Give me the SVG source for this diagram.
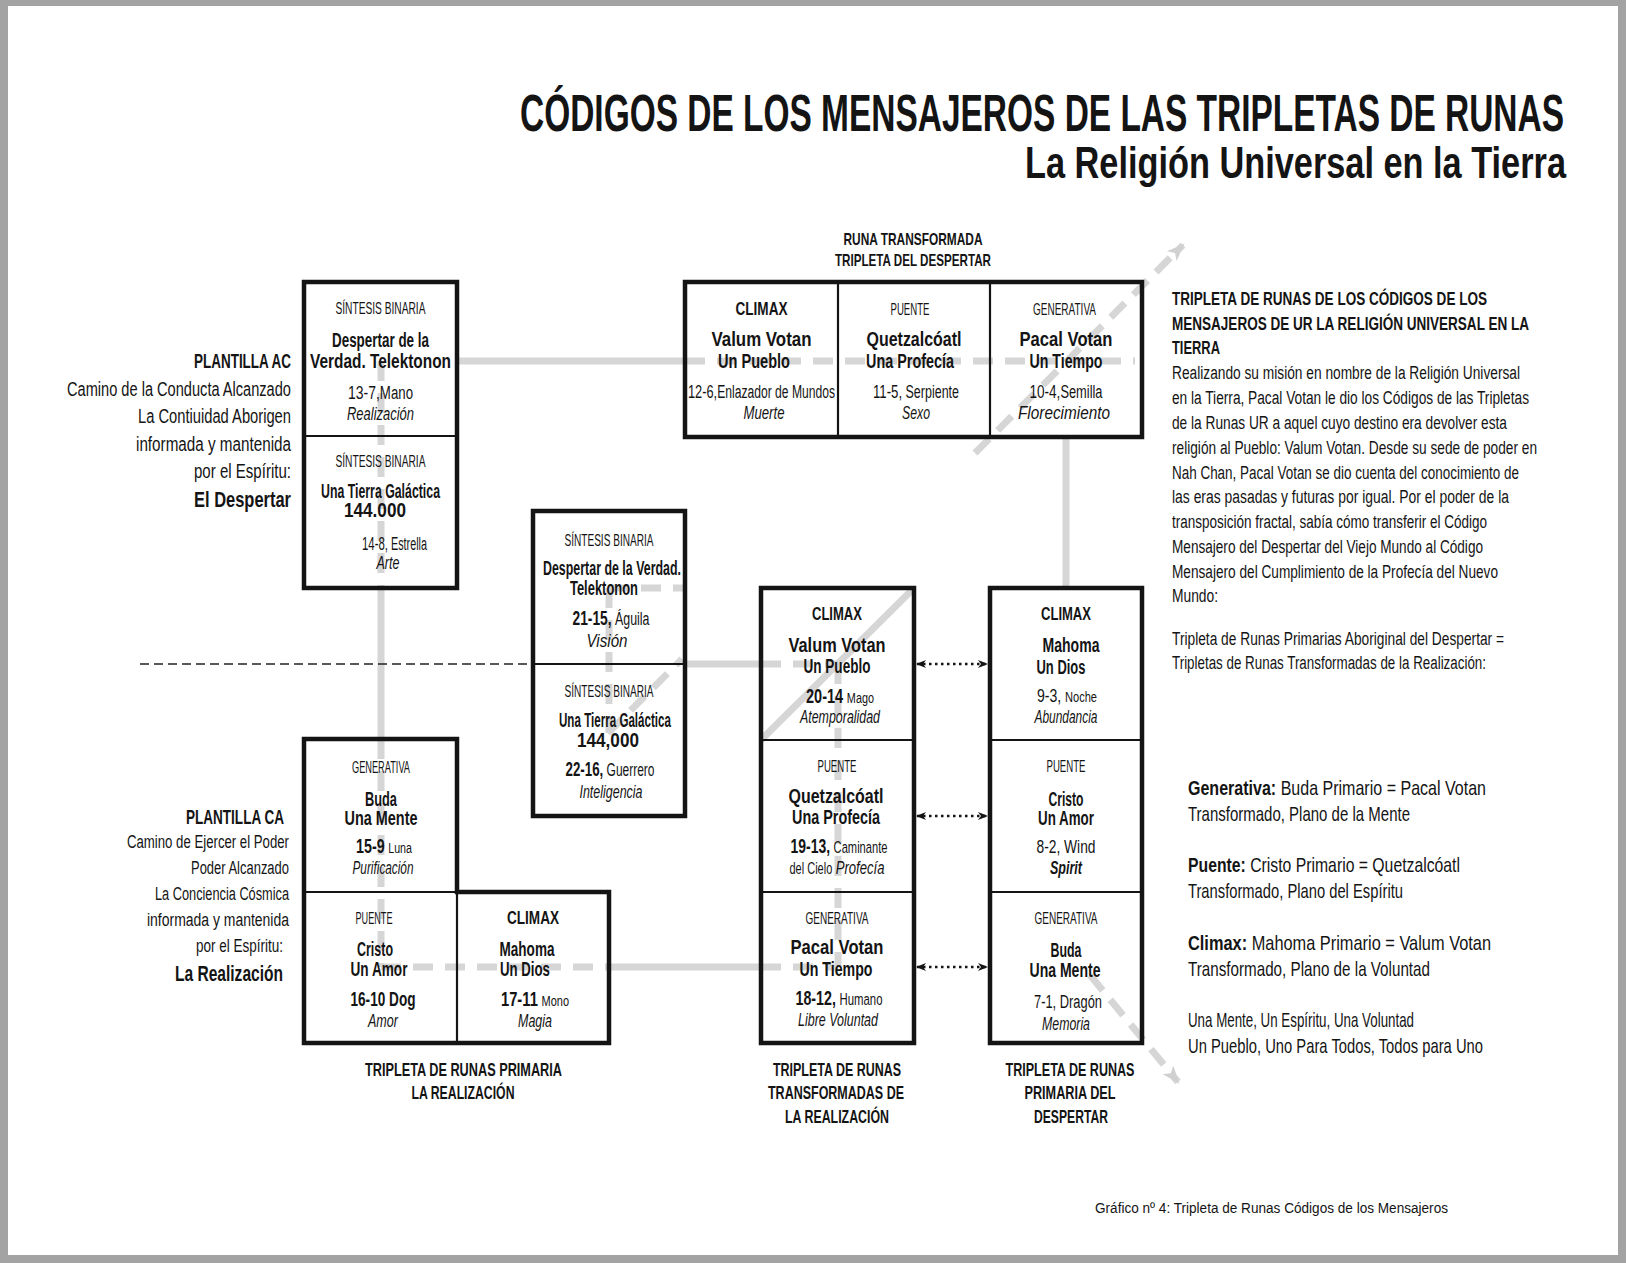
<svg xmlns="http://www.w3.org/2000/svg" width="1626" height="1263" viewBox="0 0 1626 1263">
<defs>
<style>
text{font-family:"Liberation Sans",Arial,sans-serif;fill:#141414;transform-box:fill-box;transform-origin:0 81%}
.c{text-anchor:middle}
.e{text-anchor:end}
.ti{font-size:33.6px;font-weight:bold;transform:scaleY(1.548)}
.st{font-size:34.3px;font-weight:bold;transform:scaleY(1.283)}
.hd{font-size:10px;transform:scaleY(1.6)}
.cx{font-size:13.5px;font-weight:bold;transform:scaleY(1.33)}
.nm{font-size:14.8px;font-weight:bold;transform:scaleY(1.35)}
.nb{font-size:17.2px;font-weight:bold;transform:scaleY(1.22)}
.nu{font-size:12.4px;transform:scaleY(1.45)}
.it{font-size:13.5px;font-style:italic;transform:scaleY(1.33)}
.lb{font-size:12.7px;font-weight:bold;transform:scaleY(1.5)}
.lb2{font-size:11.3px;font-weight:bold;transform:scaleY(1.5)}
.pl{font-size:13.3px;font-weight:bold;transform:scaleY(1.58)}
.pa{font-size:14.6px;transform:scaleY(1.37)}
.pab{font-size:16.4px;font-weight:bold;transform:scaleY(1.34)}
.pr{font-size:13.6px;transform:scaleY(1.32)}
.prb{font-size:13.6px;font-weight:bold;transform:scaleY(1.32)}
.ps{font-size:15px;transform:scaleY(1.4)}
.ft{font-size:12.9px;transform:scaleY(1.16)}
.box{fill:none;stroke:#141414;stroke-width:4.5}
.div{fill:none;stroke:#141414;stroke-width:2.2}
.g{stroke:#d6d6d6;stroke-width:7;fill:none}
.gd{stroke:#d6d6d6;stroke-width:7;fill:none;stroke-dasharray:20 12}
.bd{stroke:#222;stroke-width:1.5;fill:none;stroke-dasharray:9 5}
.dot{stroke:#141414;stroke-width:2.5;fill:none;stroke-dasharray:2.5 3.5}
</style>
<marker id="da" viewBox="0 0 10 8" refX="9" refY="4" markerWidth="10" markerHeight="8" markerUnits="userSpaceOnUse" orient="auto-start-reverse"><path d="M0,0 L10,4 L0,8 L3,4 Z" fill="#141414"/></marker>
<marker id="ga" viewBox="0 0 16 12" refX="14" refY="6" markerWidth="18" markerHeight="14" markerUnits="userSpaceOnUse" orient="auto"><path d="M0,0 L16,6 L0,12 L4,6 Z" fill="#d0d0d0"/></marker>
</defs>

<rect width="1626" height="1263" fill="#a3a3a3"/>
<rect x="8" y="6" width="1610" height="1249" fill="#ffffff"/>

<g id="title">
<text class="ti" x="520" y="131" textLength="1044" lengthAdjust="spacingAndGlyphs">CÓDIGOS DE LOS MENSAJEROS DE LAS TRIPLETAS DE RUNAS</text>
<text class="st" x="1025" y="178" textLength="541" lengthAdjust="spacingAndGlyphs">La Religión Universal en la Tierra</text>
</g>

<g id="connectors">
<line class="g" x1="457" y1="361" x2="685" y2="361"/>
<line class="gd" x1="685" y1="361" x2="1135" y2="361"/>
<line class="gd" x1="381" y1="361" x2="381" y2="588"/>
<line class="g" x1="381" y1="588" x2="381" y2="739"/>
<line class="gd" x1="381" y1="739" x2="381" y2="967"/>
<line class="gd" x1="381" y1="967" x2="609" y2="967"/>
<line class="g" x1="609" y1="967" x2="761" y2="967"/>
<line class="gd" x1="761" y1="967" x2="838" y2="967"/>
<line class="gd" x1="838" y1="664" x2="838" y2="967"/>
<line class="g" x1="685" y1="664" x2="761" y2="664"/>
<line class="gd" x1="761" y1="664" x2="838" y2="664"/>
<line class="gd" x1="609" y1="588" x2="609" y2="733"/>
<line class="gd" x1="609" y1="588" x2="685" y2="588"/>
<line class="gd" x1="608" y1="733" x2="682" y2="659"/>
<line class="g" x1="761" y1="740" x2="914" y2="588"/>
<line class="g" x1="1066" y1="437" x2="1066" y2="588"/>
<line class="gd" x1="975" y1="453" x2="1183" y2="245" marker-end="url(#ga)"/>
<line class="gd" x1="1090" y1="975" x2="1178" y2="1082" marker-end="url(#ga)"/>
<line class="bd" x1="140" y1="664" x2="532" y2="664"/>
<line class="dot" x1="917" y1="664" x2="987" y2="664" marker-start="url(#da)" marker-end="url(#da)"/>
<line class="dot" x1="917" y1="816" x2="987" y2="816" marker-start="url(#da)" marker-end="url(#da)"/>
<line class="dot" x1="917" y1="967" x2="987" y2="967" marker-start="url(#da)" marker-end="url(#da)"/>
</g>

<g id="plantilla-ac">
<text class="e pl" x="291" y="368" textLength="97" lengthAdjust="spacingAndGlyphs">PLANTILLA AC</text>
<text class="e pa" x="291" y="396" textLength="224" lengthAdjust="spacingAndGlyphs">Camino de la Conducta Alcanzado</text>
<text class="e pa" x="291" y="423" textLength="153" lengthAdjust="spacingAndGlyphs">La Contiuidad Aborigen</text>
<text class="e pa" x="291" y="451" textLength="155" lengthAdjust="spacingAndGlyphs">informada y mantenida</text>
<text class="e pa" x="291" y="478" textLength="97" lengthAdjust="spacingAndGlyphs">por el Espíritu:</text>
<text class="e pab" x="291" y="507" textLength="97" lengthAdjust="spacingAndGlyphs">El Despertar</text>
</g>

<g id="plantilla-ca">
<text class="e pl" x="284" y="824" font-size="12.7" textLength="98" lengthAdjust="spacingAndGlyphs">PLANTILLA CA</text>
<text class="e pr" x="289" y="848" textLength="162" lengthAdjust="spacingAndGlyphs">Camino de Ejercer el Poder</text>
<text class="e pr" x="289" y="874" textLength="98" lengthAdjust="spacingAndGlyphs">Poder Alcanzado</text>
<text class="e pr" x="289" y="900" textLength="134" lengthAdjust="spacingAndGlyphs">La Conciencia Cósmica</text>
<text class="e pr" x="289" y="926" textLength="142" lengthAdjust="spacingAndGlyphs">informada y mantenida</text>
<text class="e pr" x="283" y="952" textLength="87" lengthAdjust="spacingAndGlyphs">por el Espíritu:</text>
<text class="e pab" x="283" y="981" font-size="15.7" textLength="108" lengthAdjust="spacingAndGlyphs">La Realización</text>
</g>

<g id="box-sintesis-ac">
<rect class="box" x="304" y="282" width="153" height="306"/>
<line class="div" x1="304" y1="436" x2="457" y2="436"/>
<text class="c hd" x="380.5" y="314" textLength="90" lengthAdjust="spacingAndGlyphs">SÍNTESIS BINARIA</text>
<text class="c nm" x="380.5" y="347" textLength="97" lengthAdjust="spacingAndGlyphs">Despertar de la</text>
<text class="c nm" x="380.5" y="368" textLength="141" lengthAdjust="spacingAndGlyphs">Verdad. Telektonon</text>
<text class="c nu" x="380.5" y="399" textLength="65" lengthAdjust="spacingAndGlyphs"><tspan font-size="13.1">13-7,</tspan>Mano</text>
<text class="c it" x="380.5" y="420" textLength="67" lengthAdjust="spacingAndGlyphs">Realización</text>
<text class="c hd" x="380.5" y="467" textLength="90" lengthAdjust="spacingAndGlyphs">SÍNTESIS BINARIA</text>
<text class="c nm" x="380.5" y="498" textLength="119" lengthAdjust="spacingAndGlyphs">Una Tierra Galáctica</text>
<text class="c nb" x="375" y="517" textLength="62" lengthAdjust="spacingAndGlyphs">144.000</text>
<text class="c nu" x="394.5" y="550" textLength="65" lengthAdjust="spacingAndGlyphs"><tspan font-size="13.1">14-8,</tspan>  Estrella</text>
<text class="c it" x="388" y="569" textLength="23" lengthAdjust="spacingAndGlyphs">Arte</text>
</g>

<g id="box-runa-transformada">
<text class="c lb2" x="913" y="245" textLength="139" lengthAdjust="spacingAndGlyphs">RUNA TRANSFORMADA</text>
<text class="c lb2" x="913" y="266" textLength="156" lengthAdjust="spacingAndGlyphs">TRIPLETA DEL DESPERTAR</text>
<rect class="box" x="685" y="282" width="457" height="155"/>
<line class="div" x1="838" y1="282" x2="838" y2="437"/>
<line class="div" x1="990" y1="282" x2="990" y2="437"/>
<text class="c cx" x="761.5" y="315" textLength="52" lengthAdjust="spacingAndGlyphs">CLIMAX</text>
<text class="c nm" x="761.5" y="346" textLength="100" lengthAdjust="spacingAndGlyphs">Valum Votan</text>
<text class="c nm" x="754" y="368" textLength="72" lengthAdjust="spacingAndGlyphs">Un Pueblo</text>
<text class="c nu" x="761.5" y="398" textLength="147" lengthAdjust="spacingAndGlyphs"><tspan font-size="13.1">12-6,</tspan>Enlazador de Mundos</text>
<text class="c it" x="764" y="419" textLength="41" lengthAdjust="spacingAndGlyphs">Muerte</text>
<text class="c hd" x="910" y="315" textLength="39" lengthAdjust="spacingAndGlyphs">PUENTE</text>
<text class="c nm" x="914" y="346" textLength="95" lengthAdjust="spacingAndGlyphs">Quetzalcóatl</text>
<text class="c nm" x="910" y="368" textLength="88" lengthAdjust="spacingAndGlyphs">Una Profecía</text>
<text class="c nu" x="916" y="398" textLength="86" lengthAdjust="spacingAndGlyphs"><tspan font-size="13.1">11-5,</tspan> Serpiente</text>
<text class="c it" x="916" y="419" textLength="28" lengthAdjust="spacingAndGlyphs">Sexo</text>
<text class="c hd" x="1064.5" y="315" textLength="63" lengthAdjust="spacingAndGlyphs">GENERATIVA</text>
<text class="c nm" x="1066" y="346" textLength="93" lengthAdjust="spacingAndGlyphs">Pacal Votan</text>
<text class="c nm" x="1066" y="368" textLength="73" lengthAdjust="spacingAndGlyphs">Un Tiempo</text>
<text class="c nu" x="1066" y="398" textLength="73" lengthAdjust="spacingAndGlyphs"><tspan font-size="13.1">10-4,</tspan>Semilla</text>
<text class="c it" x="1064" y="419" textLength="92" lengthAdjust="spacingAndGlyphs">Florecimiento</text>
</g>

<g id="box-sintesis-central">
<rect class="box" x="533" y="511" width="152" height="305"/>
<line class="div" x1="533" y1="664" x2="685" y2="664"/>
<text class="c hd" x="609" y="546" textLength="89" lengthAdjust="spacingAndGlyphs">SÍNTESIS BINARIA</text>
<text class="c nm" x="612" y="575" font-size="14.1" textLength="138" lengthAdjust="spacingAndGlyphs">Despertar de la Verdad.</text>
<text class="c nm" x="604" y="595" font-size="14.1" textLength="68" lengthAdjust="spacingAndGlyphs">Telektonon</text>
<text class="c nu" x="611" y="625" textLength="77" lengthAdjust="spacingAndGlyphs"><tspan font-size="13.8" font-weight="bold">21-15,</tspan> Águila</text>
<text class="c it" x="607" y="647" textLength="41" lengthAdjust="spacingAndGlyphs">Visión</text>
<text class="c hd" x="609" y="697" textLength="89" lengthAdjust="spacingAndGlyphs">SÍNTESIS BINARIA</text>
<text class="c nm" x="615" y="727" font-size="14.1" textLength="112" lengthAdjust="spacingAndGlyphs">Una Tierra Galáctica</text>
<text class="c nb" x="608" y="747" textLength="62" lengthAdjust="spacingAndGlyphs">144,000</text>
<text class="c nu" x="610" y="776" textLength="89" lengthAdjust="spacingAndGlyphs"><tspan font-size="13.8" font-weight="bold">22-16,</tspan> Guerrero</text>
<text class="c it" x="611" y="798" textLength="63" lengthAdjust="spacingAndGlyphs">Inteligencia</text>
</g>

<g id="box-transformadas-realizacion">
<rect class="box" x="761" y="588" width="153" height="455"/>
<line class="div" x1="761" y1="740" x2="914" y2="740"/>
<line class="div" x1="761" y1="892" x2="914" y2="892"/>
<text class="c cx" x="837" y="620" textLength="50" lengthAdjust="spacingAndGlyphs">CLIMAX</text>
<text class="c nm" x="837" y="652" textLength="97" lengthAdjust="spacingAndGlyphs">Valum Votan</text>
<text class="c nm" x="837" y="673" textLength="67" lengthAdjust="spacingAndGlyphs">Un Pueblo</text>
<text class="c nu" x="840" y="703" textLength="68" lengthAdjust="spacingAndGlyphs"><tspan font-size="13.8" font-weight="bold">20-14</tspan> <tspan font-size="10.3">Mago</tspan></text>
<text class="c it" x="840" y="723" textLength="80" lengthAdjust="spacingAndGlyphs">Atemporalidad</text>
<text class="c hd" x="837" y="772" textLength="39" lengthAdjust="spacingAndGlyphs">PUENTE</text>
<text class="c nm" x="836" y="803" textLength="95" lengthAdjust="spacingAndGlyphs">Quetzalcóatl</text>
<text class="c nm" x="836" y="824" textLength="88" lengthAdjust="spacingAndGlyphs">Una Profecía</text>
<text class="c nu" x="839" y="853" textLength="97" lengthAdjust="spacingAndGlyphs"><tspan font-size="13.8" font-weight="bold">19-13,</tspan> <tspan font-size="11">Caminante</tspan></text>
<text class="c nu" x="837" y="874" textLength="95" lengthAdjust="spacingAndGlyphs"><tspan font-size="11">del Cielo</tspan>  <tspan font-style="italic" font-size="13.1">Profecía</tspan></text>
<text class="c hd" x="837" y="924" textLength="63" lengthAdjust="spacingAndGlyphs">GENERATIVA</text>
<text class="c nm" x="837" y="954" textLength="93" lengthAdjust="spacingAndGlyphs">Pacal Votan</text>
<text class="c nm" x="836" y="976" textLength="73" lengthAdjust="spacingAndGlyphs">Un Tiempo</text>
<text class="c nu" x="839" y="1005" textLength="87" lengthAdjust="spacingAndGlyphs"><tspan font-size="13.8" font-weight="bold">18-12,</tspan> <tspan font-size="11">Humano</tspan></text>
<text class="c it" x="838" y="1026" textLength="80" lengthAdjust="spacingAndGlyphs">Libre Voluntad</text>
<text class="c lb" x="837" y="1076" textLength="128" lengthAdjust="spacingAndGlyphs">TRIPLETA DE RUNAS</text>
<text class="c lb" x="836" y="1099" textLength="136" lengthAdjust="spacingAndGlyphs">TRANSFORMADAS DE</text>
<text class="c lb" x="837" y="1123" textLength="104" lengthAdjust="spacingAndGlyphs">LA REALIZACIÓN</text>
</g>

<g id="box-primaria-despertar">
<rect class="box" x="990" y="588" width="152" height="455"/>
<line class="div" x1="990" y1="740" x2="1142" y2="740"/>
<line class="div" x1="990" y1="892" x2="1142" y2="892"/>
<text class="c cx" x="1066" y="620" textLength="50" lengthAdjust="spacingAndGlyphs">CLIMAX</text>
<text class="c nm" x="1071" y="652" textLength="57" lengthAdjust="spacingAndGlyphs">Mahoma</text>
<text class="c nm" x="1061" y="674" textLength="49" lengthAdjust="spacingAndGlyphs">Un Dios</text>
<text class="c nu" x="1067" y="702" textLength="60" lengthAdjust="spacingAndGlyphs"><tspan font-size="13.1">9-3,</tspan> <tspan font-size="10.3">Noche</tspan></text>
<text class="c it" x="1066" y="723" textLength="63" lengthAdjust="spacingAndGlyphs">Abundancia</text>
<text class="c hd" x="1066" y="772" textLength="39" lengthAdjust="spacingAndGlyphs">PUENTE</text>
<text class="c nm" x="1066" y="806" textLength="35" lengthAdjust="spacingAndGlyphs">Cristo</text>
<text class="c nm" x="1066" y="825" textLength="56" lengthAdjust="spacingAndGlyphs">Un Amor</text>
<text class="c nu" x="1066" y="853" font-size="13.1" textLength="59" lengthAdjust="spacingAndGlyphs">8-2, Wind</text>
<text class="c it" x="1066" y="874" font-weight="bold" textLength="32" lengthAdjust="spacingAndGlyphs">Spirit</text>
<text class="c hd" x="1066" y="924" textLength="63" lengthAdjust="spacingAndGlyphs">GENERATIVA</text>
<text class="c nm" x="1066" y="957" textLength="31" lengthAdjust="spacingAndGlyphs">Buda</text>
<text class="c nm" x="1065" y="977" textLength="71" lengthAdjust="spacingAndGlyphs">Una Mente</text>
<text class="c nu" x="1068" y="1008" font-size="13.1" textLength="68" lengthAdjust="spacingAndGlyphs">7-1, Dragón</text>
<text class="c it" x="1066" y="1030" textLength="48" lengthAdjust="spacingAndGlyphs">Memoria</text>
<text class="c lb" x="1070" y="1076" textLength="129" lengthAdjust="spacingAndGlyphs">TRIPLETA DE RUNAS</text>
<text class="c lb" x="1070" y="1099" textLength="91" lengthAdjust="spacingAndGlyphs">PRIMARIA DEL</text>
<text class="c lb" x="1071" y="1123" textLength="74" lengthAdjust="spacingAndGlyphs">DESPERTAR</text>
</g>

<g id="box-primaria-realizacion">
<path class="box" d="M304,739 H457 V892 H609 V1043 H304 Z"/>
<line class="div" x1="304" y1="892" x2="457" y2="892"/>
<line class="div" x1="457" y1="892" x2="457" y2="1043"/>
<text class="c hd" x="381" y="773" textLength="58" lengthAdjust="spacingAndGlyphs">GENERATIVA</text>
<text class="c nm" x="381" y="806" textLength="32" lengthAdjust="spacingAndGlyphs">Buda</text>
<text class="c nm" x="381" y="825" textLength="73" lengthAdjust="spacingAndGlyphs">Una Mente</text>
<text class="c nu" x="384" y="853" textLength="56" lengthAdjust="spacingAndGlyphs"><tspan font-size="13.8" font-weight="bold">15-9</tspan> <tspan font-size="10.3">Luna</tspan></text>
<text class="c it" x="383" y="874" textLength="61" lengthAdjust="spacingAndGlyphs">Purificación</text>
<text class="c hd" x="374" y="924" textLength="37" lengthAdjust="spacingAndGlyphs">PUENTE</text>
<text class="c nm" x="375" y="956" textLength="36" lengthAdjust="spacingAndGlyphs">Cristo</text>
<text class="c nm" x="379" y="976" textLength="57" lengthAdjust="spacingAndGlyphs">Un Amor</text>
<text class="c nm" x="383" y="1006" textLength="65" lengthAdjust="spacingAndGlyphs">16-10 Dog</text>
<text class="c it" x="383" y="1027" textLength="30" lengthAdjust="spacingAndGlyphs">Amor</text>
<text class="c cx" x="533" y="924" textLength="52" lengthAdjust="spacingAndGlyphs">CLIMAX</text>
<text class="c nm" x="527" y="956" textLength="55" lengthAdjust="spacingAndGlyphs">Mahoma</text>
<text class="c nm" x="525" y="976" textLength="50" lengthAdjust="spacingAndGlyphs">Un Dios</text>
<text class="c nu" x="535" y="1006" textLength="68" lengthAdjust="spacingAndGlyphs"><tspan font-size="13.8" font-weight="bold">17-11</tspan> <tspan font-size="10.3">Mono</tspan></text>
<text class="c it" x="535" y="1027" textLength="34" lengthAdjust="spacingAndGlyphs">Magia</text>
<text class="c lb" x="463.5" y="1076" textLength="197" lengthAdjust="spacingAndGlyphs">TRIPLETA DE RUNAS PRIMARIA</text>
<text class="c lb" x="463" y="1099" textLength="103" lengthAdjust="spacingAndGlyphs">LA REALIZACIÓN</text>
</g>

<g id="texto-descripcion">
<text class="prb" x="1172" y="305" textLength="315" lengthAdjust="spacingAndGlyphs">TRIPLETA DE RUNAS DE LOS CÓDIGOS DE LOS</text>
<text class="prb" x="1172" y="330" textLength="357" lengthAdjust="spacingAndGlyphs">MENSAJEROS DE UR LA RELIGIÓN UNIVERSAL EN LA</text>
<text class="prb" x="1172" y="354" textLength="48" lengthAdjust="spacingAndGlyphs">TIERRA</text>
<text class="pr" x="1172" y="379" textLength="348" lengthAdjust="spacingAndGlyphs">Realizando su misión en nombre de la Religión Universal</text>
<text class="pr" x="1172" y="404" textLength="357" lengthAdjust="spacingAndGlyphs">en la Tierra, Pacal Votan le dio los Códigos de las Tripletas</text>
<text class="pr" x="1172" y="429" textLength="335" lengthAdjust="spacingAndGlyphs">de la Runas UR a aquel cuyo destino era devolver esta</text>
<text class="pr" x="1172" y="454" textLength="365" lengthAdjust="spacingAndGlyphs">religión al Pueblo: Valum Votan. Desde su sede de poder en</text>
<text class="pr" x="1172" y="479" textLength="347" lengthAdjust="spacingAndGlyphs">Nah Chan, Pacal Votan se dio cuenta del conocimiento de</text>
<text class="pr" x="1172" y="503" textLength="337" lengthAdjust="spacingAndGlyphs">las eras pasadas y futuras por igual. Por el poder de la</text>
<text class="pr" x="1172" y="528" textLength="315" lengthAdjust="spacingAndGlyphs">transposición fractal, sabía cómo transferir el Código</text>
<text class="pr" x="1172" y="553" textLength="311" lengthAdjust="spacingAndGlyphs">Mensajero del Despertar del Viejo Mundo al Código</text>
<text class="pr" x="1172" y="578" textLength="326" lengthAdjust="spacingAndGlyphs">Mensajero del Cumplimiento de la Profecía del Nuevo</text>
<text class="pr" x="1172" y="602" textLength="46" lengthAdjust="spacingAndGlyphs">Mundo:</text>
<text class="pr" x="1172" y="645" textLength="332" lengthAdjust="spacingAndGlyphs">Tripleta de Runas Primarias Aboriginal del Despertar =</text>
<text class="pr" x="1172" y="669" textLength="314" lengthAdjust="spacingAndGlyphs">Tripletas de Runas Transformadas de la Realización:</text>
</g>

<g id="texto-equivalencias">
<text class="ps" x="1188" y="795" textLength="298" lengthAdjust="spacingAndGlyphs"><tspan font-weight="bold">Generativa:</tspan>  Buda Primario = Pacal Votan</text>
<text class="ps" x="1188" y="821" textLength="222" lengthAdjust="spacingAndGlyphs">Transformado, Plano de la Mente</text>
<text class="ps" x="1188" y="872" textLength="272" lengthAdjust="spacingAndGlyphs"><tspan font-weight="bold">Puente:</tspan> Cristo Primario =  Quetzalcóatl</text>
<text class="ps" x="1188" y="898" textLength="215" lengthAdjust="spacingAndGlyphs">Transformado, Plano del Espíritu</text>
<text class="ps" x="1188" y="950" textLength="303" lengthAdjust="spacingAndGlyphs"><tspan font-weight="bold">Climax:</tspan> Mahoma Primario  =  Valum Votan</text>
<text class="ps" x="1188" y="976" textLength="242" lengthAdjust="spacingAndGlyphs">Transformado, Plano de la Voluntad</text>
<text class="ps" x="1188" y="1027" textLength="226" lengthAdjust="spacingAndGlyphs">Una Mente, Un Espíritu, Una Voluntad</text>
<text class="ps" x="1188" y="1053" textLength="295" lengthAdjust="spacingAndGlyphs">Un Pueblo, Uno Para Todos, Todos para Uno</text>
</g>

<g id="pie">
<text class="ft" x="1095" y="1213" textLength="353" lengthAdjust="spacingAndGlyphs">Gráfico nº 4: Tripleta de Runas Códigos de los Mensajeros</text>
</g>
</svg>
